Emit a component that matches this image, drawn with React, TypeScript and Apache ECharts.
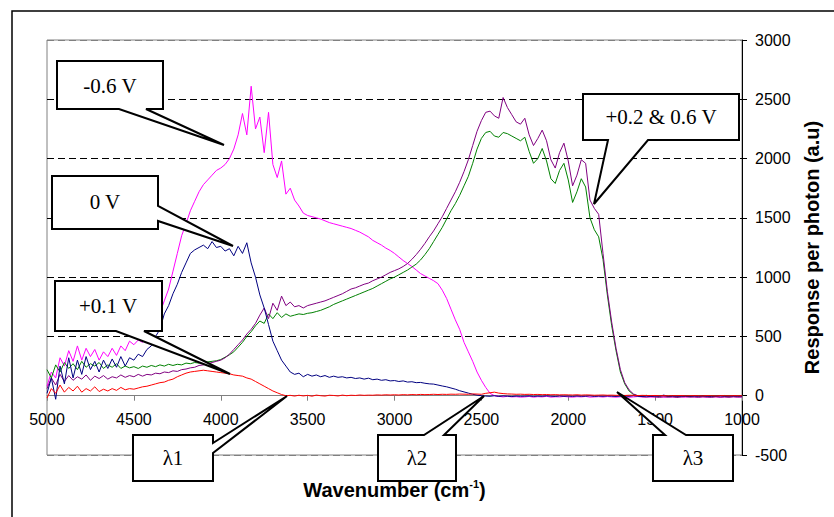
import React, { useEffect, useRef } from "react";
import * as echarts from "echarts";

// Sampling grid: wavenumbers 5000 -> 1000 cm^-1, one reading every 25 cm^-1
const wavenumbers: number[] = Array.from({ length: 161 }, (_, i) => 5000 - 25 * i);

const xTicks = { min: 1000, max: 5000, interval: 500 };
const yTicks = { min: -500, max: 3000, interval: 500 };

// -0.6 V (magenta)
const minus06V: number[] = [
  80, 200, 150, 320, 250, 380, 290, 420, 300, 400,
  330, 390, 300, 370, 330, 400, 340, 420, 380, 460,
  430, 470, 450, 520, 560, 640, 700, 800, 900, 1050,
  1200, 1350, 1450, 1560, 1640, 1720, 1780, 1820, 1860, 1900,
  1920, 1950, 2000, 2080, 2200, 2380, 2200, 2610, 2250, 2350,
  2050, 2390, 1950, 1840, 1980, 1700, 1750, 1650, 1600, 1540,
  1520, 1510, 1500, 1490, 1475, 1460, 1450, 1440, 1430, 1420,
  1410, 1395, 1380, 1360, 1340, 1310, 1290, 1270, 1245, 1225,
  1200, 1170, 1140, 1115, 1090, 1060, 1030, 1010, 990, 970,
  945, 890, 820, 730, 640, 560, 450, 370, 290, 200,
  130, 70, 20, 0, -5, -10, -5, -10, -8, -12,
  -10, -6, -12, -8, -10, -5, -12, -9, -10, -6,
  -10, -12, -8, -10, -6, -12, -10, -8, -11, -7,
  -10, -12, -9, -8, -13, -10, -7, -11, -9, -12,
  -10, -8, -12, -9, -11, -7, -10, -12, -8, -10,
  -11, -9, -12, -8, -10, -13, -9, -10, -8, -11,
  -10,
];

// 0 V (navy)
const zeroV: number[] = [
  20, 150, -30, 250, 100, 320, 150, 300, 180, 330,
  220, 290, 200, 300, 230, 310, 240, 330, 250, 320,
  300, 350, 330, 390, 420, 500, 560, 690, 760, 860,
  940, 1040, 1120, 1200, 1230, 1250, 1270, 1240, 1300, 1250,
  1260, 1220, 1240, 1180, 1260, 1200, 1290, 1120, 1000, 850,
  740, 600, 460, 380, 300, 250, 200, 180, 190, 160,
  180, 165, 175, 160, 170, 155, 165, 155, 160, 150,
  155, 145, 150, 140, 148, 135, 140, 130, 135, 125,
  128, 120, 125, 115, 118, 110, 112, 105, 100, 98,
  90, 82, 75, 65, 55, 42, 32, 22, 12, 5,
  0, -3, -5, 0, -6, -2, -4, -7, -3, -5,
  -4, -2, -6, -3, -5, -1, -4, -6, -2, -5,
  -3, -6, -2, -5, -4, -1, -6, -3, -5, -2,
  -4, -6, -3, -2, -5, 0, -4, -6, -3, -5,
  -2, -4, 5, -6, -3, -5, -2, -4, -6, -3,
  -5, -2, -4, -6, -3, -1, -5, -4, -2, -4,
  -3,
];

// +0.1 V (red)
const plus01V: number[] = [
  -20, 60, 20, 90, 30, 70, 40, 80, 30, 60,
  40, 75, 35, 55, 40, 60, 45, 70, 50, 60,
  55, 65, 75, 80, 90, 100, 110, 115, 130, 140,
  160, 175, 190, 200, 205, 210, 215, 210, 205, 200,
  195, 190, 185, 175, 170, 165, 150, 140, 120, 100,
  80, 60, 40, 25, 10, 0, 3, -3, 4, -2,
  3, -4, 5, 0, -3, 4, 2, -2, 5, 0,
  4, 2, 6, 3, 5, 4, 7, 5, 8, 6,
  8, 6, 9, 7, 10, 8, 11, 9, 10, 12,
  10, 12, 11, 13, 12, 14, 13, 12, 15, 14,
  12, 20, 25, 30, 22, 18, 15, 14, 12, 13,
  11, 12, 10, 11, 9, 10, 8, 9, 7, 8,
  7, 6, 8, 5, 7, 6, 4, 5, 6, 4,
  5, 3, 4, 2, 4, 3, 1, 3, 2, 1,
  2, 0, 1, -1, 1, 0, 2, -1, 0, 1,
  0, -1, 1, 0, -2, 1, 0, -1, 1, 0,
  0,
];

// +0.6 V (purple)
const plus06V: number[] = [
  60, 150, 90, 180, 120, 170, 130, 160, 140, 175,
  130, 165, 145, 170, 140, 160, 150, 175, 155, 170,
  160, 180, 165, 180, 175, 190, 185, 200, 195, 210,
  205, 220, 225, 235, 240, 255, 260, 270, 280, 290,
  300, 320, 350, 390, 430, 470, 520, 560, 610, 680,
  740, 650, 780, 720, 840, 760, 790, 750, 760, 740,
  760, 770, 780, 790, 800, 815, 830, 845, 860, 880,
  900, 910, 925, 940, 950, 970, 985, 1000, 1020, 1040,
  1055, 1070, 1090, 1115, 1150, 1190, 1235, 1285, 1340, 1390,
  1450, 1510, 1580, 1650, 1720, 1800, 1890, 1990, 2110, 2230,
  2320, 2390, 2400, 2360, 2340, 2515, 2430, 2370, 2310, 2290,
  2340, 2200, 2110, 2170, 2240, 2150, 1990, 1920, 2050, 2130,
  1980, 1770, 1860, 1990, 1960, 1650, 1580, 1530, 1200, 880,
  620, 400, 220, 110, 50, 15, 0, -8, -12, -6,
  -10, -14, -8, -12, -9, -15, -10, -7, -12, -10,
  -13, -9, -11, -14, -8, -12, -10, -13, -9, -11,
  -10,
];

// +0.2 V (green)
const plus02V: number[] = [
  220, 150, 260, 200, 280, 230, 270, 220, 290, 240,
  270, 250, 280, 230, 260, 240, 270, 230, 250, 235,
  245, 230, 250, 240, 255, 245, 260, 250, 265, 255,
  265, 260, 275, 270, 280, 275, 285, 285, 290, 295,
  305, 325, 345, 370, 410, 450, 500, 540, 590, 630,
  610, 690, 650, 700, 660, 690, 670, 680, 690, 685,
  695, 700, 710, 720, 735, 750, 770, 785, 800, 815,
  830, 845, 860, 875, 890, 905, 925, 945, 965, 985,
  1000, 1020, 1040, 1060, 1085, 1110, 1145, 1190, 1240, 1300,
  1360, 1420, 1490, 1560, 1620, 1690, 1770, 1850, 1960, 2080,
  2170, 2220, 2230, 2190, 2180, 2220, 2210, 2190, 2170, 2150,
  2180, 2060, 1960, 2000, 2085, 1980, 1830, 1790, 1900, 1960,
  1820, 1630, 1720, 1830, 1760, 1500, 1400, 1340, 1150, 850,
  590, 380, 200, 100, 40, 10, 0, -2, 3, -4,
  0, -3, 2, -5, 1, -2, -4, 0, -3, 1,
  -2, 0, -4, 1, -3, -1, 2, -2, 0, -3,
  -1,
];

const seriesDefs = [
  { name: "-0.6 V", values: minus06V, color: "#FF00FF" },
  { name: "+0.2 V", values: plus02V, color: "#008000" },
  { name: "+0.6 V", values: plus06V, color: "#800080" },
  { name: "0 V", values: zeroV, color: "#000080" },
  { name: "+0.1 V", values: plus01V, color: "#FF0000" },
];

const callouts = [
  { text: "-0.6 V", cx: 110, cy: 86, pts: [[57, 61], [163, 61], [163, 109], [146, 109], [224, 145], [119, 109], [57, 109]] },
  { text: "0 V", cx: 105, cy: 202, pts: [[52, 176], [158, 176], [158, 206], [233, 246], [158, 221], [158, 229], [52, 229]] },
  { text: "+0.1 V", cx: 108, cy: 306, pts: [[55, 281], [162, 281], [162, 331], [144, 331], [230, 374], [116, 331], [55, 331]] },
  { text: "+0.2 & 0.6 V", cx: 661, cy: 117, pts: [[583, 94], [739, 94], [739, 140], [648, 140], [594, 204], [608, 140], [583, 140]] },
  { text: "λ1", cx: 173, cy: 458, pts: [[133, 435], [213, 435], [213, 443], [287, 396], [213, 453], [213, 481], [133, 481]] },
  { text: "λ2", cx: 417, cy: 458, pts: [[378, 435], [424, 435], [484, 396], [444, 435], [456, 435], [456, 481], [378, 481]] },
  { text: "λ3", cx: 693, cy: 458, pts: [[653, 435], [665, 435], [617, 392], [686, 435], [733, 435], [733, 481], [653, 481]] },
];

const plainLabel = (v: number) => String(v);

const W = 834;
const H = 517;
const GRID = { left: 47, right: 92, top: 40, bottom: 62 };
const SANS = '"Liberation Sans", Arial, sans-serif';

export default function App() {
  const ref = useRef<HTMLDivElement>(null);
  useEffect(() => {
    if (!ref.current) return;
    const chart = echarts.init(ref.current, undefined, { renderer: "svg" });
    // x axis sits on the y = 0 line: shift it up from the grid bottom by the scale's share
    const gridH = H - GRID.top - GRID.bottom;
    const zeroShift = (gridH * (0 - yTicks.min)) / (yTicks.max - yTicks.min);

    const graphics: any[] = [
      {
        type: "rect",
        shape: { x: 12, y: 11, width: 900, height: 600 },
        style: { fill: "none", stroke: "#000", lineWidth: 1.5 },
        silent: true,
        z: 1,
      },
    ];
    callouts.forEach((c) => {
      graphics.push({
        type: "polygon",
        shape: { points: c.pts },
        style: { fill: "#fff", stroke: "#000", lineWidth: 2 },
        z: 100,
      });
      graphics.push({
        type: "text",
        x: c.cx,
        y: c.cy,
        style: {
          text: c.text,
          font: '21px "Liberation Serif", "Times New Roman", serif',
          fill: "#000",
          align: "center",
          verticalAlign: "middle",
        },
        z: 101,
      });
    });
    chart.setOption({
      animation: false,
      backgroundColor: "#fff",
      grid: {
        ...GRID,
        containLabel: false,
        outerBoundsMode: "none",
        show: true,
        borderColor: "#808080",
        borderWidth: 1,
      },
      xAxis: {
        type: "value",
        inverse: true,
        ...xTicks,
        position: "bottom",
        offset: -zeroShift,
        name: "{a|Wavenumber (cm}{s|-1}{a|)}",
        nameLocation: "middle",
        nameGap: 83,
        nameTextStyle: {
          rich: {
            a: { fontFamily: SANS, fontSize: 20, fontWeight: "bold", color: "#000", lineHeight: 22 },
            s: { fontFamily: SANS, fontSize: 11, fontWeight: "bold", color: "#000", verticalAlign: "top", lineHeight: 22 },
          },
        },
        axisLine: { show: true, onZero: false, lineStyle: { color: "#808080", width: 1 } },
        axisTick: { show: true, inside: false, length: 5, lineStyle: { color: "#808080" } },
        axisLabel: {
          fontFamily: SANS,
          fontSize: 16,
          color: "#000",
          margin: 16,
          formatter: plainLabel,
        },
        splitLine: { show: false },
      },
      yAxis: {
        type: "value",
        position: "right",
        ...yTicks,
        name: "Response per photon (a.u)",
        nameLocation: "middle",
        nameGap: 60,
        nameRotate: 90,
        nameTextStyle: {
          fontFamily: SANS,
          fontSize: 20,
          fontWeight: "bold",
          color: "#000",
        },
        axisLine: { show: true, lineStyle: { color: "#000", width: 1 } },
        axisTick: { show: true, inside: false, length: 5, lineStyle: { color: "#000" } },
        axisLabel: {
          fontFamily: SANS,
          fontSize: 16,
          color: "#000",
          margin: 13,
          formatter: plainLabel,
        },
        splitLine: {
          show: true,
          lineStyle: {
            type: [7, 4],
            width: 1,
            color: ["#808080", "#000", "#000", "#000", "#000", "#000", "#000", "#808080"],
          },
        },
      },
      series: seriesDefs.map((s) => ({
        name: s.name,
        type: "line",
        showSymbol: false,
        symbol: "none",
        data: wavenumbers.map((w, i) => [w, s.values[i]]),
        lineStyle: { color: s.color, width: 1 },
        itemStyle: { color: s.color },
        z: 3,
      })),
      graphic: graphics,
    });
    return () => chart.dispose();
  }, []);
  return (
    <div
      ref={ref}
      style={{ position: "fixed", left: 0, top: 0, width: W, height: H, background: "#fff" }}
    />
  );
}
